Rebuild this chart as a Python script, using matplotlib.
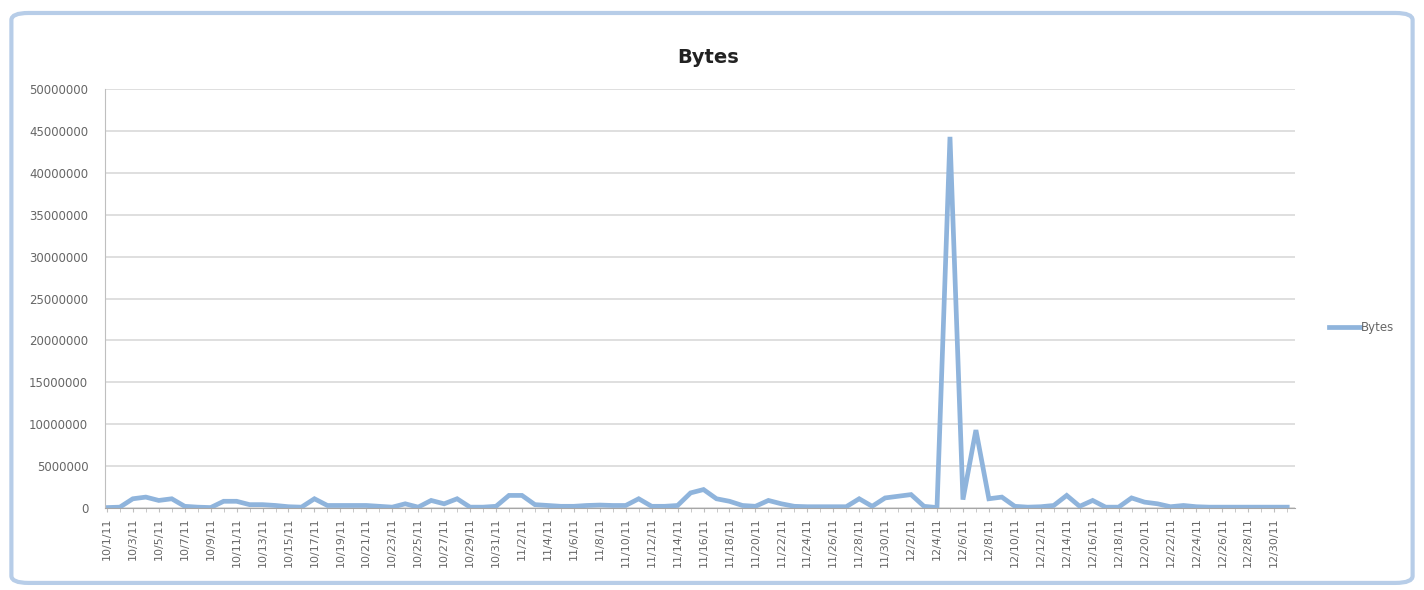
import datetime as dt
import numpy as np
import matplotlib.pyplot as plt
from matplotlib.patches import FancyBboxPatch

# daily byte counts, 10/1/11 .. 12/31/11
oct_bytes = [50000, 100000, 1100000, 1300000, 900000, 1100000, 200000, 100000,
             50000, 800000, 800000, 400000, 400000, 300000, 150000, 100000,
             1100000, 300000, 300000, 300000, 300000, 200000, 100000, 500000,
             100000, 900000, 500000, 1100000, 100000, 100000, 200000]
nov_bytes = [1500000, 1500000, 400000, 300000, 200000, 200000, 300000, 350000,
             300000, 300000, 1100000, 200000, 200000, 300000, 1800000, 2200000,
             1100000, 800000, 300000, 200000, 900000, 500000, 200000, 150000,
             150000, 150000, 150000, 1100000, 200000, 1200000]
dec_bytes = [1400000, 1600000, 200000, 50000, 44300000, 1000000, 9300000,
             1100000, 1300000, 200000, 100000, 150000, 300000, 1500000, 200000,
             900000, 100000, 100000, 1200000, 700000, 500000, 150000, 300000,
             150000, 100000, 100000, 100000, 100000, 100000, 100000, 100000]

byte_counts = oct_bytes + nov_bytes + dec_bytes
start = dt.date(2011, 10, 1)
dates = [start + dt.timedelta(days=i) for i in range(len(byte_counts))]
labels = [f"{d.month}/{d.day}/{d.year % 100}" for d in dates]
y_ticks = list(range(0, 50000001, 5000000))

fig = plt.figure(figsize=(14.24, 5.90), dpi=100)

# window-style frame around the chart
frame = FancyBboxPatch((0.008, 0.012), 0.984, 0.966, boxstyle="round,pad=0,rounding_size=0.012",
                       transform=fig.transFigure, facecolor="white", edgecolor="#b7cde8",
                       linewidth=3, zorder=-1)
fig.patches.append(frame)

ax = fig.add_axes([0.0737, 0.139, 0.8357, 0.710], zorder=1)
x = np.arange(len(byte_counts))
ax.plot(x, byte_counts, color="#8fb4dc", linewidth=3.4, solid_joinstyle="miter", label="Bytes")

ax.set_xlim(-0.15, 91.6)
ax.set_ylim(0, 50000000)
ax.set_yticks(y_ticks)
ax.set_yticklabels([str(v) for v in y_ticks])
ax.set_xticks(x[::2])
ax.set_xticklabels(labels[::2], rotation=90)
ax.set_xticks(x, minor=True)

ax.grid(axis="y", color="#d9d9d9", linewidth=1.2)
ax.set_axisbelow(True)
for s in ["top", "right"]:
    ax.spines[s].set_visible(False)
ax.spines["left"].set_color("#bfbfbf")
ax.spines["bottom"].set_color("#a6a6a6")
ax.tick_params(axis="y", length=0, labelsize=8.5, labelcolor="#666666", pad=12)
ax.tick_params(axis="x", which="both", length=3, color="#bfbfbf", labelsize=8, labelcolor="#666666")
ax.patch.set_alpha(0)

fig.text(0.497, 0.903, "Bytes", ha="center", va="center", fontsize=14, fontweight="bold", color="#222222")
ax.legend(loc="center left", bbox_to_anchor=(1.02, 0.43), frameon=False, fontsize=8.5,
          labelcolor="#666666", handlelength=2.6, handletextpad=0.1)

plt.savefig("out.png", dpi=100)
